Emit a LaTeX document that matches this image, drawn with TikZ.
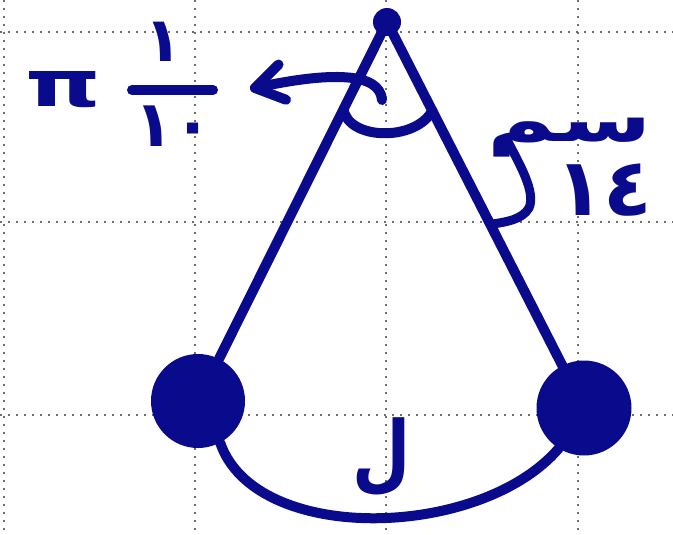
\documentclass[tikz,border=0pt]{standalone}
\usepackage{fontspec}
\setmainfont{DejaVu Sans}
\newfontfamily\arabicfont[Script=Arabic]{DejaVu Sans}
\TeXXeTstate=1
\usetikzlibrary{arrows.meta}
\definecolor{ink}{RGB}{10,10,140}
\definecolor{gridc}{RGB}{110,110,110}
\begin{document}
\begin{tikzpicture}[x=1pt,y=-1pt,
  gridline/.style={gridc, line width=1.6pt, dash pattern=on 1.6pt off 6.4pt},
  stroke/.style={ink, line width=10pt, line cap=round, line join=round},
  ball/.style={circle, fill=ink, inner sep=0pt, minimum size=#1},
  txt/.style={ink, inner sep=0pt, font=\arabicfont\bfseries}]
\useasboundingbox[fill=white] (0,0) rectangle (673,535);
\foreach \x in {4,195,386,578} \draw[gridline] (\x,0) -- (\x,535);
\foreach \y in {32,222,415} \draw[gridline] (0,\y) -- (673,\y);
% pendulum
\node[ball=28pt] (apex) at (387,22) {};
\node[ball=94pt] (lb) at (198,401) {};
\node[ball=95pt] (rb) at (584,408) {};
\draw[stroke] (apex.center) -- (lb);
\draw[stroke] (apex.center) -- (rb);
\draw[stroke] (lb.-62) .. controls (255,545) and (480,540) .. (rb.-122);
% angle arc
\path (apex.center) -- (lb.center) coordinate[pos=0.23] (aL);
\path (apex.center) -- (rb.center) coordinate[pos=0.23] (aR);
\draw[stroke] (aL) .. controls (348,140) and (415,142) .. (aR);
% arrow to angle label
\coordinate (hook) at (382,100);
\coordinate (tip) at (250,89);
\draw[stroke, -{Straight Barb[round,length=28pt,width=36pt]}] (hook) .. controls (380,72) and (330,72) .. (tip);
% angle label
\node[txt, font=\bfseries\fontsize{64}{64}\selectfont, xscale=1.5] (pi) at (63,90) {π};
\node[txt, font=\arabicfont\bfseries\fontsize{62}{62}\selectfont] (num) at (163,42) {١};
\coordinate (barL) at (132,90);
\coordinate (barR) at (213,90);
\draw[stroke] (barL) -- (barR);
\node[txt, font=\arabicfont\bfseries\fontsize{64}{64}\selectfont] (den) at (174,126) {١٠};
% length label
\node[txt, font=\arabicfont\bfseries\fontsize{64}{64}\selectfont, xscale=1.45, anchor=base] (cm) at (570,142) {\beginR سم\endR};
\node[txt, font=\arabicfont\bfseries\fontsize{80}{80}\selectfont] (fourteen) at (604,190) {١٤};
\coordinate (cmtail) at (506,138);
\coordinate (ropehit) at (493,224);
\draw[stroke, line width=9pt] (cmtail) .. controls (520,165) and (536,192) .. (529,208) .. controls (522,220) and (505,222) .. (ropehit);
% arc label
\node[txt, font=\arabicfont\bfseries\fontsize{84}{84}\selectfont, xscale=0.8] (L) at (382,457) {ل};
\end{tikzpicture}
\end{document}
